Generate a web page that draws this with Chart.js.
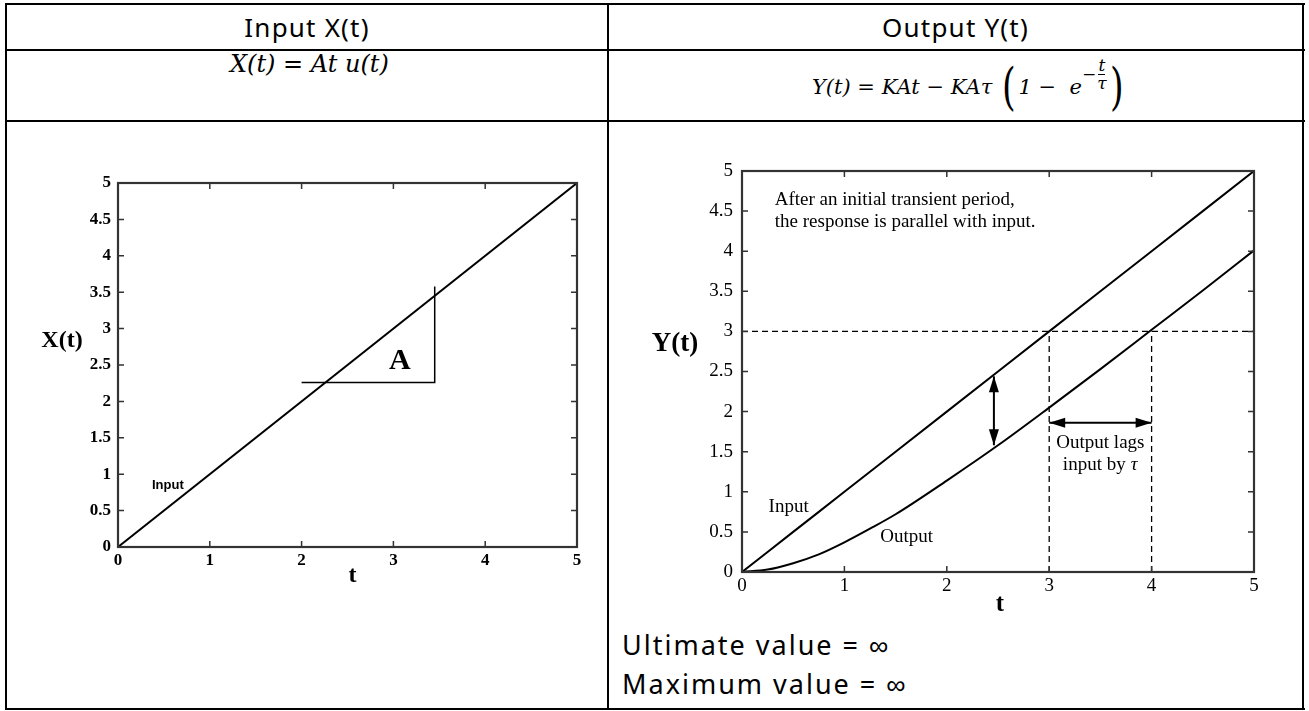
<!DOCTYPE html>
<html>
<head>
<meta charset="utf-8">
<script src="https://cdn.jsdelivr.net/npm/chart.js@4.4.1/dist/chart.umd.min.js"></script>
<style>
  body { margin: 0; width: 1309px; height: 711px; background: #fff; position: relative; overflow: hidden; }
  .rule { position: absolute; background: #000; }
  .head { position: absolute; top: 4px; height: 46px; line-height: 46px; text-align: center; font-family: "Noto Sans", sans-serif; font-size: 26px; letter-spacing: 1.2px; color: #000; }
  .formula { position: absolute; font-family: "DejaVu Serif", serif; font-style: italic; color: #000; white-space: nowrap; }
  .note { position: absolute; left: 622px; font-family: "Noto Sans", sans-serif; font-size: 27px; letter-spacing: 2px; color: #000; white-space: nowrap; }
  canvas { position: absolute; }
</style>
</head>
<body>
<!-- table lines -->
<div class="rule" style="left:5px; top:3px; width:1300px; height:2px"></div>
<div class="rule" style="left:5px; top:49px; width:1300px; height:2px"></div>
<div class="rule" style="left:5px; top:120px; width:1300px; height:2px"></div>
<div class="rule" style="left:5px; top:708px; width:1300px; height:2px"></div>
<div class="rule" style="left:5px; top:3px; width:2px; height:707px"></div>
<div class="rule" style="left:607px; top:3px; width:2px; height:707px"></div>
<div class="rule" style="left:1302px; top:3px; width:2px; height:707px"></div>

<div class="head" style="left:7px; width:600px">Input X(t)</div>
<div class="head" style="left:609px; width:693px">Output Y(t)</div>

<div class="formula" style="left:230px; top:50px; font-size:24px">X(t) = At u(t)</div>
<div class="formula" style="left:812px; top:60px; font-size:21px; display:flex; align-items:center">
  <span>Y(t) = KAt − KAτ&nbsp;</span>
  <span style="font-style:normal; font-size:50px; line-height:54px; transform:scaleX(0.7)">(</span>
  <span>1 − &nbsp;e</span>
  <span style="display:inline-flex; align-items:center; font-size:17px; margin-top:-26px">−<span style="display:inline-flex; flex-direction:column; align-items:center; margin-left:1px"><span style="border-bottom:1px solid #000; line-height:17px">t</span><span style="line-height:17px">τ</span></span></span>
  <span style="font-style:normal; font-size:50px; line-height:54px; transform:scaleX(0.7)">)</span>
</div>

<canvas id="inputChart" style="left:20px; top:160px"></canvas>
<canvas id="outputChart" style="left:620px; top:150px"></canvas>

<div class="note" style="top:626px">Ultimate value = ∞</div>
<div class="note" style="top:665px">Maximum value = ∞</div>

<script>
// axis ticks
const tTicks = [0, 1, 2, 3, 4, 5];
const valueTicks = [0, 0.5, 1, 1.5, 2, 2.5, 3, 3.5, 4, 4.5, 5];

// left plot: ramp input and the slope triangle
const rampT = [0, 5];
const rampX = [0, 5];
const slopeT = [2, 3.45, 3.45];
const slopeX = [2.26, 2.26, 3.58];

// right plot: input and lagged output
const respT = [0, 0.25, 0.5, 0.75, 1, 1.25, 1.5, 2, 2.5, 3, 3.5, 4, 4.5, 5];
const respInput = [0, 0.25, 0.5, 0.75, 1, 1.25, 1.5, 2, 2.5, 3, 3.5, 4, 4.5, 5];
const respOutput = [0, 0.03, 0.11, 0.22, 0.37, 0.54, 0.72, 1.14, 1.58, 2.05, 2.53, 3.02, 3.51, 4.01];

// dashed guides
const guideLevel = 3;
const guideT = [3, 4];

// arrows [x1, y1, x2, y2]
const gapArrow = [2.46, 2.44, 2.46, 1.58];
const lagArrow = [3, 1.86, 4, 1.86];

const pts = (xs, ys) => xs.map((x, i) => ({ x: x, y: ys[i] }));

function lineSet(data, dash) {
    return {
        data: data,
        showLine: true,
        borderColor: '#000',
        borderWidth: dash ? 1.3 : 2,
        borderDash: dash ? [6, 4] : [],
        pointRadius: 0,
        tension: 0,
        fill: false
    };
}

// box + inward ticks on every side, like the original plots
const framePlugin = {
    id: 'frame',
    afterDraw(chart) {
        const { ctx, chartArea: a, scales } = chart;
        ctx.save();
        ctx.strokeStyle = '#333';
        ctx.lineWidth = 1.5;
        const len = 6;
        ctx.beginPath();
        tTicks.forEach(v => {
            const px = scales.x.getPixelForValue(v);
            ctx.moveTo(px, a.bottom); ctx.lineTo(px, a.bottom - len);
            ctx.moveTo(px, a.top); ctx.lineTo(px, a.top + len);
        });
        valueTicks.forEach(v => {
            const py = scales.y.getPixelForValue(v);
            ctx.moveTo(a.left, py); ctx.lineTo(a.left + len, py);
            ctx.moveTo(a.right, py); ctx.lineTo(a.right - len, py);
        });
        ctx.stroke();
        ctx.lineWidth = 2.2;
        ctx.strokeRect(a.left, a.top, a.right - a.left, a.bottom - a.top);
        ctx.restore();
    }
};

function drawArrow(chart, seg) {
    const { ctx, scales } = chart;
    const x1 = scales.x.getPixelForValue(seg[0]);
    const y1 = scales.y.getPixelForValue(seg[1]);
    const x2 = scales.x.getPixelForValue(seg[2]);
    const y2 = scales.y.getPixelForValue(seg[3]);
    ctx.save();
    ctx.strokeStyle = '#000';
    ctx.fillStyle = '#000';
    ctx.lineWidth = 2;
    ctx.beginPath();
    ctx.moveTo(x1, y1); ctx.lineTo(x2, y2);
    ctx.stroke();
    const ang = Math.atan2(y2 - y1, x2 - x1);
    [[x2, y2, ang], [x1, y1, ang + Math.PI]].forEach(([x, y, a]) => {
        ctx.beginPath();
        ctx.moveTo(x, y);
        ctx.lineTo(x - 16 * Math.cos(a) + 5 * Math.sin(a), y - 16 * Math.sin(a) - 5 * Math.cos(a));
        ctx.lineTo(x - 16 * Math.cos(a) - 5 * Math.sin(a), y - 16 * Math.sin(a) + 5 * Math.cos(a));
        ctx.closePath();
        ctx.fill();
    });
    ctx.restore();
}

function drawText(chart, txt, tx, ty, font, align) {
    const { ctx, scales } = chart;
    ctx.save();
    ctx.font = font;
    ctx.fillStyle = '#000';
    ctx.textAlign = align || 'left';
    ctx.textBaseline = 'middle';
    ctx.fillText(txt, scales.x.getPixelForValue(tx), scales.y.getPixelForValue(ty));
    ctx.restore();
}

function axisOptions(opts) {
    const tickFont = { family: 'Liberation Serif', size: opts.tickSize, weight: opts.tickWeight };
    return {
        x: {
            type: 'linear', min: 0, max: 5,
            grid: { display: false, drawTicks: false },
            border: { display: false },
            afterBuildTicks: s => { s.ticks = tTicks.map(v => ({ value: v })); },
            afterFit: s => { s.height = opts.xHeight; },
            ticks: { color: '#000', font: tickFont, padding: opts.xPad, maxRotation: 0, callback: v => String(v) }
        },
        y: {
            type: 'linear', min: 0, max: 5,
            grid: { display: false, drawTicks: false },
            border: { display: false },
            afterBuildTicks: s => { s.ticks = valueTicks.map(v => ({ value: v })); },
            afterFit: s => { s.width = opts.yWidth; },
            ticks: { color: '#000', font: tickFont, padding: opts.yPad, callback: v => String(v) }
        }
    };
}

document.addEventListener('DOMContentLoaded', () => {
    // ---------- input ramp ----------
    const inputCanvas = document.getElementById('inputChart');
    inputCanvas.width = 580; inputCanvas.height = 440;
    new Chart(inputCanvas, {
        type: 'scatter',
        data: {
            datasets: [
                lineSet(pts(rampT, rampX)),
                Object.assign(lineSet(pts(slopeT, slopeX)), { borderWidth: 1.5 })
            ]
        },
        options: {
            responsive: false,
            animation: false,
            layout: { padding: { top: 23, right: 23, left: 0, bottom: 0 } },
            plugins: { legend: { display: false }, tooltip: { enabled: false } },
            scales: axisOptions({ tickSize: 17, tickWeight: 'bold', xHeight: 53, yWidth: 98, xPad: 3, yPad: 7 })
        },
        plugins: [framePlugin, {
            id: 'inputLabels',
            afterDraw(chart) {
                const a = chart.chartArea;
                drawText(chart, 'A', 3.07, 2.55, 'bold 30px "Liberation Serif"', 'center');
                drawText(chart, 'Input', 0.37, 0.84, 'bold 13px "Liberation Sans Narrow", "Liberation Sans"');
                const ctx = chart.ctx;
                ctx.save();
                ctx.font = 'bold 24px "Liberation Serif"';
                ctx.textAlign = 'center';
                ctx.textBaseline = 'middle';
                ctx.fillStyle = '#000';
                ctx.fillText('X(t)', a.left - 56, chart.scales.y.getPixelForValue(2.83));
                ctx.fillText('t', (a.left + a.right) / 2 + 5, a.bottom + 29);
                ctx.restore();
            }
        }]
    });

    // ---------- output response ----------
    const outputCanvas = document.getElementById('outputChart');
    outputCanvas.width = 670; outputCanvas.height = 470;
    new Chart(outputCanvas, {
        type: 'scatter',
        data: {
            datasets: [
                lineSet(pts(respT, respInput)),
                Object.assign(lineSet(pts(respT, respOutput)), { cubicInterpolationMode: 'monotone', tension: 0.4 }),
                lineSet(pts([0, 5], [guideLevel, guideLevel]), true),
                lineSet(pts([guideT[0], guideT[0]], [0, guideLevel]), true),
                lineSet(pts([guideT[1], guideT[1]], [0, guideLevel]), true)
            ]
        },
        options: {
            responsive: false,
            animation: false,
            layout: { padding: { top: 21, right: 36, left: 0, bottom: 0 } },
            plugins: { legend: { display: false }, tooltip: { enabled: false } },
            scales: axisOptions({ tickSize: 19, tickWeight: 'normal', xHeight: 48, yWidth: 122, xPad: 3, yPad: 9 })
        },
        plugins: [framePlugin, {
            id: 'outputLabels',
            afterDraw(chart) {
                const a = chart.chartArea;
                const f = '19px "Liberation Serif"';
                drawText(chart, 'After an initial transient period,', 0.32, 4.64, f);
                drawText(chart, 'the response is parallel with input.', 0.32, 4.36, f);
                drawText(chart, 'Input', 0.26, 0.81, f);
                drawText(chart, 'Output', 1.35, 0.44, f);
                drawText(chart, 'Output lags', 3.5, 1.61, f, 'center');
                drawText(chart, 'input by', 3.44, 1.33, f, 'center');
                drawText(chart, 'τ', 3.83, 1.33, 'italic 19px "Liberation Serif"', 'center');
                drawArrow(chart, gapArrow);
                drawArrow(chart, lagArrow);
                const ctx = chart.ctx;
                ctx.save();
                ctx.font = 'bold 27px "Liberation Serif"';
                ctx.textAlign = 'center';
                ctx.textBaseline = 'middle';
                ctx.fillStyle = '#000';
                ctx.fillText('Y(t)', a.left - 67, chart.scales.y.getPixelForValue(2.84));
                ctx.font = 'bold 25px "Liberation Serif"';
                ctx.fillText('t', (a.left + a.right) / 2 + 2, a.bottom + 33);
                ctx.restore();
            }
        }]
    });
});
</script>
</body>
</html>
